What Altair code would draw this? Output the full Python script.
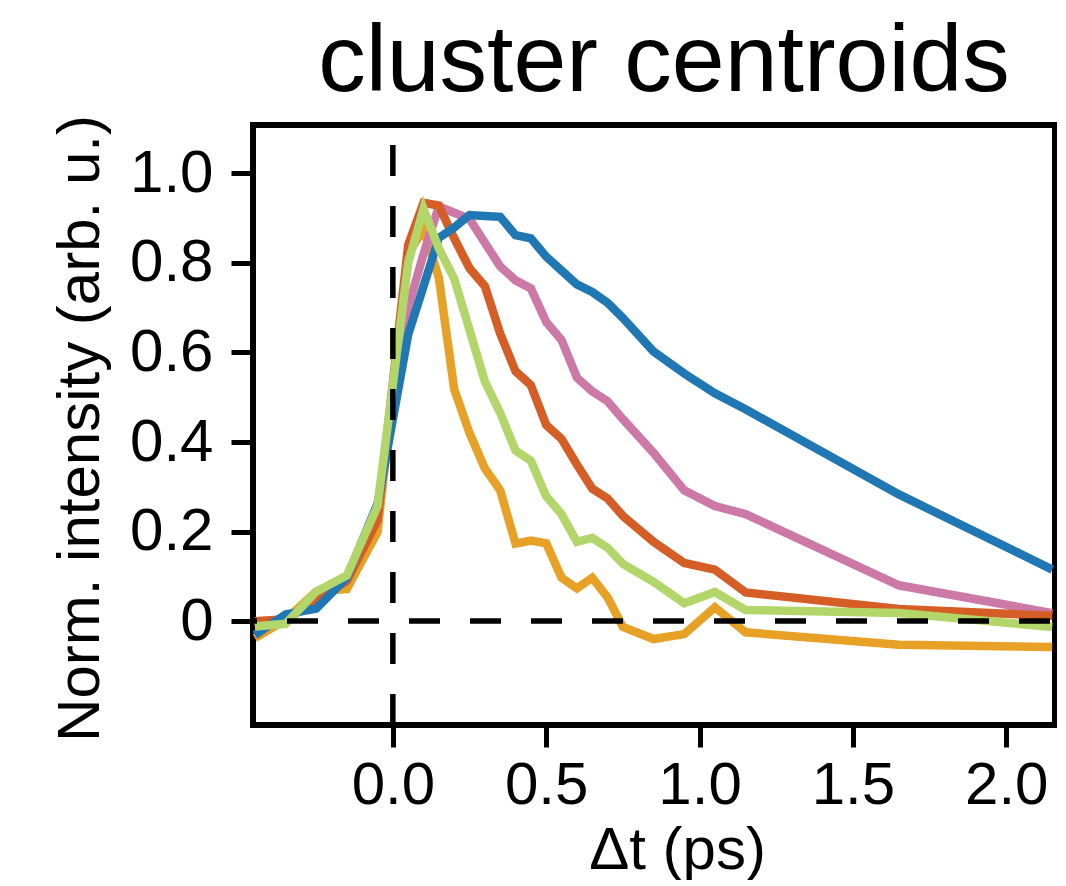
import altair as alt
import pandas as pd

# time delays (ps)
T = [-0.45, -0.35, -0.25, -0.15, -0.05, 0.05, 0.1, 0.15, 0.2, 0.25, 0.3, 0.35,
     0.4, 0.45, 0.5, 0.55, 0.6, 0.65, 0.7, 0.75, 0.85, 0.95, 1.05, 1.15, 1.65, 2.15]

ORANGE = [-0.038, 0.003, 0.066, 0.072, 0.199, 0.82, 0.875, 0.767, 0.518, 0.420, 0.341, 0.292,
          0.173, 0.180, 0.174, 0.097, 0.073, 0.097, 0.053, -0.013, -0.040, -0.029, 0.031, -0.025, -0.053, -0.058]
PINK = [-0.01, 0.0, 0.05, 0.09, 0.24, 0.70, 0.82, 0.926, 0.912, 0.898, 0.845, 0.792,
        0.761, 0.743, 0.668, 0.628, 0.544, 0.513, 0.491, 0.451, 0.376, 0.292, 0.257, 0.239, 0.080, 0.018]
RED = [0.0, 0.004, 0.047, 0.09, 0.225, 0.84, 0.934, 0.928, 0.855, 0.788, 0.748, 0.642,
       0.558, 0.527, 0.438, 0.407, 0.350, 0.296, 0.274, 0.235, 0.177, 0.130, 0.115, 0.064, 0.027, 0.012]
BLUE = [-0.031, 0.015, 0.028, 0.097, 0.262, 0.64, 0.748, 0.856, 0.879, 0.907, 0.905, 0.903,
        0.862, 0.855, 0.814, 0.783, 0.752, 0.735, 0.711, 0.677, 0.602, 0.553, 0.509, 0.473, 0.283, 0.115]
GREEN = [-0.012, -0.006, 0.066, 0.102, 0.257, 0.80, 0.921, 0.832, 0.765, 0.650, 0.535, 0.465,
         0.381, 0.358, 0.279, 0.239, 0.177, 0.186, 0.164, 0.128, 0.088, 0.040, 0.065, 0.025, 0.018, -0.013]

SERIES = [
    ("orange", ORANGE, "#e8a127"),
    ("pink", PINK, "#cc79a7"),
    ("red", RED, "#d55e27"),
    ("blue", BLUE, "#1f77b4"),
    ("green", GREEN, "#b3d66b"),
]

TITLE = "cluster centroids"
X_TITLE = "Δt (ps)"
Y_TITLE = "Norm. intensity (arb. u.)"
X_TICKS = [0.0, 0.5, 1.0, 1.5, 2.0]
Y_TICKS = [0.0, 0.2, 0.4, 0.6, 0.8, 1.0]

W, H = 802, 600
FONT = "Liberation Sans"

x_scale = alt.Scale(domain=[-0.456, 2.159], nice=False, zero=False)
y_scale = alt.Scale(domain=[-0.232, 1.108], nice=False, zero=False)

x_axis = alt.Axis(values=X_TICKS, format=".1f", title=X_TITLE,
                  labelBaseline="alphabetic", labelPadding=56,
                  titleBaseline="alphabetic", titleX=424, titleY=143, titleAlign="center")
y_axis = alt.Axis(values=Y_TICKS, title=Y_TITLE,
                  labelExpr="datum.value == 0 ? '0' : format(datum.value, '.1f')",
                  labelPadding=18,
                  titleBaseline="alphabetic", titleAngle=270, titleAlign="center",
                  titleX=-155, titleY=303)

layers = []
for name, vals, col in SERIES:
    df = pd.DataFrame({"t": T, "v": vals})
    layers.append(
        alt.Chart(df).mark_line(color=col, strokeWidth=8.5, strokeJoin="miter", strokeCap="butt").encode(
            x=alt.X("t:Q", scale=x_scale, axis=x_axis),
            y=alt.Y("v:Q", scale=y_scale, axis=y_axis),
        )
    )

zero_df = pd.DataFrame({"z": [0.0]})
vrule = alt.Chart(zero_df).mark_rule(color="black", strokeWidth=5.5, strokeDash=[31, 30]).encode(
    x=alt.X("z:Q", scale=x_scale, axis=x_axis),
    y=alt.value(H), y2=alt.value(0),
)
hrule = alt.Chart(zero_df).mark_rule(color="black", strokeWidth=5.5, strokeDash=[31, 30],
                                     strokeDashOffset=27).encode(
    y=alt.Y("z:Q", scale=y_scale, axis=y_axis),
    x=alt.value(0), x2=alt.value(W),
)

title_df = pd.DataFrame({"label": [TITLE]})
title = alt.Chart(title_df).mark_text(
    font=FONT, fontSize=95, color="black", align="center", baseline="alphabetic"
).encode(
    text="label:N", x=alt.value(411), y=alt.value(-34)
)

chart = alt.layer(*layers, vrule, hrule, title).properties(
    width=W, height=H,
    autosize=alt.AutoSizeParams(type="none"),
    padding={"left": 245, "top": 117, "right": 2, "bottom": 155},
).configure_view(
    stroke="black", strokeWidth=6
).configure_axis(
    domain=False, grid=False, ticks=True, tickColor="black", tickWidth=5, tickSize=22,
    labelFont=FONT, labelFontSize=60, labelColor="black",
    titleFont=FONT, titleFontSize=60, titleFontWeight="normal", titleColor="black",
    labelOverlap=False, labelFlush=False,
)

chart.save("out.html", embed_options={"renderer": "svg", "actions": False})
